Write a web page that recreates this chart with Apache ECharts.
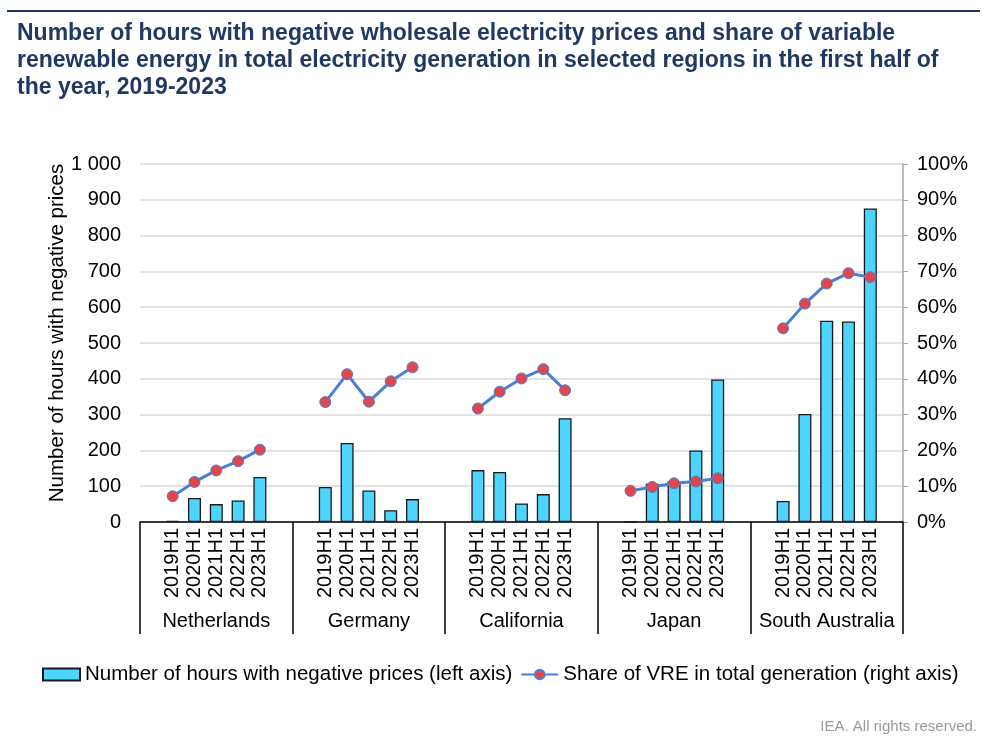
<!DOCTYPE html>
<html>
<head>
<meta charset="utf-8">
<script src="https://cdn.jsdelivr.net/npm/echarts@6/dist/echarts.min.js"></script>
<style>
  html, body { margin: 0; padding: 0; background: #fff; }
  #main { width: 994px; height: 736px; }
</style>
</head>
<body>
<div id="main"></div>
<script>
// regions and half-years
var regions = ['Netherlands', 'Germany', 'California', 'Japan', 'South Australia'];
var years = ['2019H1', '2020H1', '2021H1', '2022H1', '2023H1'];

// number of hours with negative prices (left axis)
var hoursNL = [3, 67, 50, 60, 126];
var hoursDE = [98, 221, 88, 33, 64];
var hoursCA = [145, 140, 52, 78, 290];
var hoursJP = [0, 107, 114, 200, 398];
var hoursSA = [59, 302, 562, 560, 876];

// share of VRE in total generation, % (right axis)
var vreNL = [7.2, 11.2, 14.4, 17.0, 20.2];
var vreDE = [33.5, 41.3, 33.6, 39.3, 43.2];
var vreCA = [31.7, 36.4, 40.1, 42.7, 36.8];
var vreJP = [8.7, 9.8, 10.8, 11.3, 12.2];
var vreSA = [54.1, 61.0, 66.6, 69.5, 68.4];

var hours = [hoursNL, hoursDE, hoursCA, hoursJP, hoursSA];
var vre = [vreNL, vreDE, vreCA, vreJP, vreSA];

// each region gets a blank slot before and after its five years
var cats = [], barData = [], lineData = [];
for (var g = 0; g < regions.length; g++) {
    cats.push(''); barData.push(null); lineData.push(null);
    for (var i = 0; i < years.length; i++) {
        cats.push(years[i]);
        barData.push(hours[g][i]);
        lineData.push(vre[g][i]);
    }
    cats.push(''); barData.push(null); lineData.push(null);
}

var font = 'Liberation Sans, Arial, sans-serif';
var barName = 'Number of hours with negative prices (left axis)';
var lineName = 'Share of VRE in total generation (right axis)';

var myChart = echarts.init(document.getElementById('main'));
myChart.setOption({
    animation: false,
    backgroundColor: '#fff',
    textStyle: { fontFamily: font },
    title: [{
        text: 'Number of hours with negative wholesale electricity prices and share of variable\nrenewable energy in total electricity generation in selected regions in the first half of\nthe year, 2019-2023',
        left: 12,
        top: 15,
        textStyle: { fontSize: 23, fontWeight: 'bold', color: '#1f3864', lineHeight: 27, fontFamily: font }
    }, {
        text: 'IEA. All rights reserved.',
        right: 12,
        top: 714,
        textStyle: { fontSize: 15, fontWeight: 'normal', color: '#999', fontFamily: font }
    }],
    graphic: [{
        type: 'rect',
        shape: { x: 7, y: 10, width: 973, height: 2 },
        style: { fill: '#1f3864' }
    }],
    legend: {
        left: 37,
        top: 659,
        itemWidth: 37,
        itemHeight: 12,
        itemGap: 8,
        textStyle: { fontSize: 20.5, color: '#000', fontFamily: font },
        data: [{ name: barName, icon: 'rect' }, { name: lineName }]
    },
    grid: { left: 140, right: 91, top: 164, bottom: 214 },
    xAxis: [{
        type: 'category',
        data: cats,
        axisLine: { lineStyle: { color: '#000', width: 1.5 } },
        axisTick: { show: false },
        axisLabel: { interval: 0, rotate: 90, fontSize: 20, color: '#000', margin: 6 }
    }, {
        type: 'category',
        data: regions,
        position: 'bottom',
        axisLine: { show: false },
        axisTick: { show: true, interval: 0, length: 112, lineStyle: { color: '#000', width: 1.5 } },
        axisLabel: { interval: 0, fontSize: 20, color: '#000', margin: 89 }
    }],
    yAxis: [{
        type: 'value',
        min: 0,
        max: 1000,
        interval: 100,
        name: 'Number of hours with negative prices',
        nameLocation: 'middle',
        nameGap: 72,
        nameMoveOverlap: false,
        nameTextStyle: { fontSize: 20.5, color: '#000', padding: [0, 0, 0, 20] },
        axisLine: { show: false },
        axisTick: { show: false },
        axisLabel: {
            fontSize: 20, color: '#000', margin: 19,
            formatter: function (v) { return v == 1000 ? '1 000' : String(v); }
        },
        splitLine: { lineStyle: { color: '#d9d9d9', width: 1.5 } }
    }, {
        type: 'value',
        min: 0,
        max: 100,
        interval: 10,
        position: 'right',
        axisLine: { show: true, lineStyle: { color: '#a6a6a6', width: 1.5 } },
        axisTick: { show: true, length: 5, lineStyle: { color: '#a6a6a6' } },
        axisLabel: { fontSize: 20, color: '#000', margin: 14, formatter: '{value}%' },
        splitLine: { show: false }
    }],
    series: [{
        name: barName,
        type: 'bar',
        xAxisIndex: 0,
        yAxisIndex: 0,
        barWidth: 13,
        data: barData,
        itemStyle: { color: '#4dd4ff', borderColor: '#1a1a1a', borderWidth: 1.3 }
    }, {
        name: lineName,
        type: 'line',
        xAxisIndex: 0,
        yAxisIndex: 1,
        data: lineData,
        connectNulls: false,
        symbol: 'circle',
        symbolSize: 11,
        lineStyle: { color: '#4a7fd6', width: 3 },
        itemStyle: { color: '#e0474c', borderColor: '#4a7fd6', borderWidth: 1 }
    }]
});
</script>
</body>
</html>
